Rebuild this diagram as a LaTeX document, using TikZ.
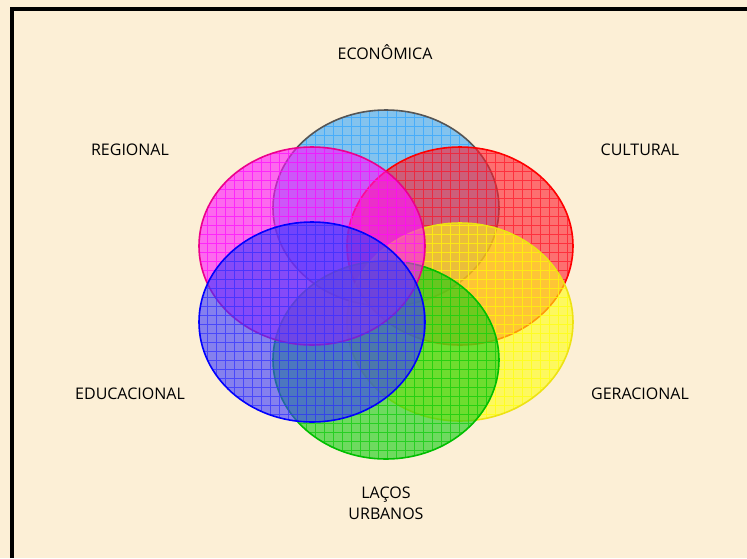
\documentclass[tikz,border=0pt]{standalone}
\usepackage{fontspec}
\setmainfont{Open Sans}
\usepackage{tikz}
\usetikzlibrary{positioning}
\definecolor{cBg}  {HTML}{FCEFD6}
\definecolor{cEco} {HTML}{33A6FF}
\definecolor{cCul} {HTML}{FF1B2C}
\definecolor{cGer} {HTML}{FFFF10}
\definecolor{cLac} {HTML}{10CC10}
\definecolor{cEdu} {HTML}{3636FF}
\definecolor{cReg} {HTML}{FF10FF}
\definecolor{cEcoL}{HTML}{555555}
\tikzset{
  petal/.style 2 args={fill=#1,fill opacity=.6,draw=#2,draw opacity=1,line width=1.6pt,
                 path picture={\draw[#1,line width=.8pt,draw opacity=.75,step=9pt]
                   (path picture bounding box.south west) grid (path picture bounding box.north east);}},
  lbl/.style   ={font=\fontsize{16}{21}\selectfont,text=black,align=center,inner sep=1pt},
  frm/.style   ={draw=black,line width=4pt},
}

\begin{document}
\begin{tikzpicture}[x=1pt,y=-1pt]
\useasboundingbox (0,0) rectangle (747,558);
\fill[cBg] (0,0) rectangle (747,558);
\draw[frm] (12,558) -- (12,9) -- (747,9);

\draw[petal={cEco}{cEcoL}] (386,208) ellipse (113 and 98);
\draw[petal={cCul}{red}] (460,246) ellipse (113 and 99);
\draw[petal={cGer}{yellow!92!black}] (460,322) ellipse (113 and 99);
\draw[petal={cLac}{green!75!black}] (386,360) ellipse (113 and 99);
\draw[petal={cReg}{magenta}] (312,246) ellipse (113 and 99);
\draw[petal={cEdu}{blue}] (312,322) ellipse (113 and 100);

\node[lbl] (eco) at (385,52) {ECONÔMICA};
\node[lbl] (reg) at (130,150) {REGIONAL};
\node[lbl] (cul) at (640,150) {CULTURAL};
\node[lbl] (edu) at (130,394) {EDUCACIONAL};
\node[lbl] (ger) at (640,394) {GERACIONAL};
\node[lbl] (lac) at (386,503) {LAÇOS\\URBANOS};
\end{tikzpicture}
\end{document}
